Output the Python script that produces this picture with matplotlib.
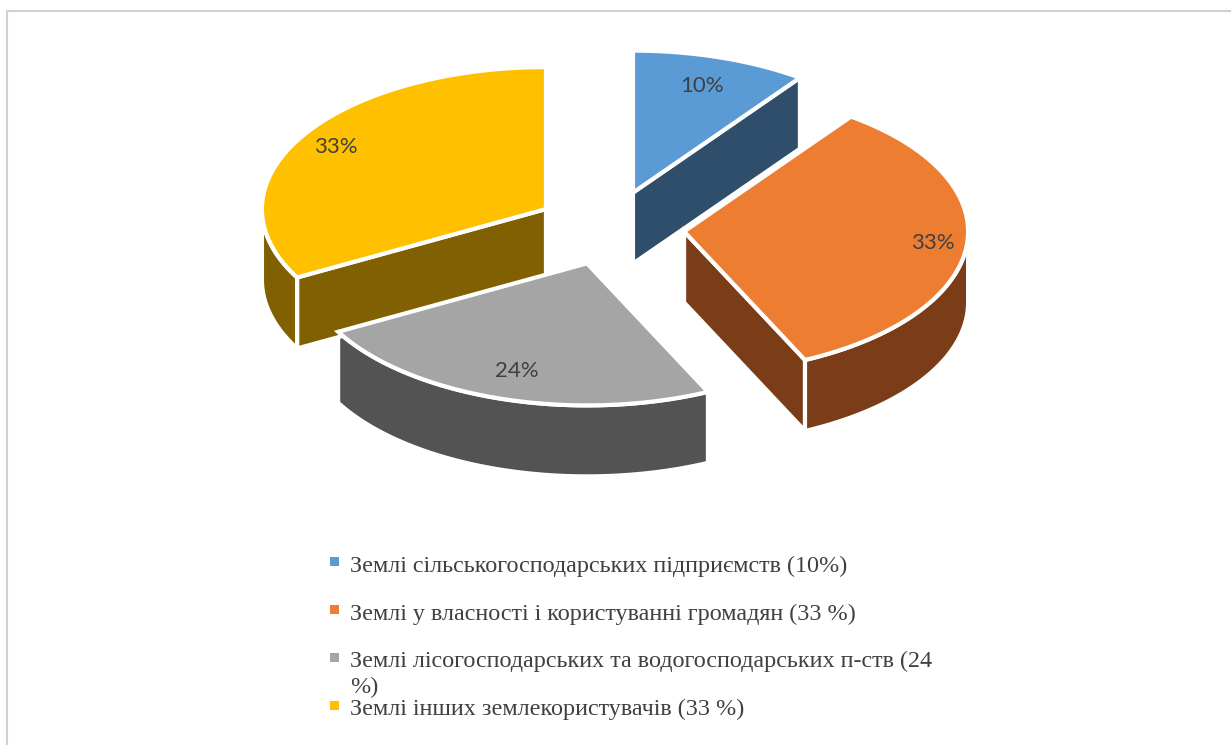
import numpy as np
import matplotlib
matplotlib.use("Agg")
import matplotlib.pyplot as plt
from matplotlib.patches import Polygon, Rectangle

# data
shares = [10, 33, 24, 33]
pct_labels = ["10%", "33%", "24%", "33%"]
legend_labels = [
    "Землі сільськогосподарських підприємств (10%)",
    "Землі у власності і користуванні громадян (33 %)",
    "Землі лісогосподарських та водогосподарських п-ств (24\n%)",
    "Землі інших землекористувачів (33 %)",
]
top_colors = ["#5B9BD5", "#ED7D31", "#A5A5A5", "#FFC000"]
side_colors = ["#2E4E6B", "#7A3D18", "#535353", "#806000"]

# pie geometry in pixels of the picture
cx, cy = 610, 228
rx, ry = 284, 142
depth = 71
explode = 0.262
label_radius = [0.79, 0.88, 0.80, 0.86]

fig = plt.figure(figsize=(12.31, 7.45), dpi=100)
ax = fig.add_axes([0, 0, 1, 1])
ax.set_xlim(0, 1231)
ax.set_ylim(745, 0)
ax.axis("off")

# chart frame, only left and top show in the crop
ax.plot([7, 7, 1231], [745, 10.5, 10.5], color="#D0D0D0", lw=1.5, zorder=1)


def rim(t, x0, y0):
    return x0 + rx * np.sin(t), y0 - ry * np.cos(t)


edges = np.cumsum([0] + shares) / sum(shares) * 2 * np.pi

for i in range(len(shares)):
    a, b = edges[i], edges[i + 1]
    mid = (a + b) / 2
    x0 = cx + explode * rx * np.sin(mid)
    y0 = cy - explode * ry * np.cos(mid)

    faces = []
    # cut faces that look towards the viewer
    if np.sin(a) < 0:
        xa, ya = rim(a, x0, y0)
        faces.append([(x0, y0), (xa, ya), (xa, ya + depth), (x0, y0 + depth)])
    if np.sin(b) > 0.01:
        xb, yb = rim(b, x0, y0)
        faces.append([(x0, y0), (xb, yb), (xb, yb + depth), (x0, y0 + depth)])
    # outer wall, lower half of the ellipse only
    lo, hi = max(a, np.pi / 2), min(b, 3 * np.pi / 2)
    if hi > lo:
        t = np.linspace(lo, hi, 80)
        wx, wy = rim(t, x0, y0)
        faces.append(list(zip(wx, wy)) + list(zip(wx[::-1], wy[::-1] + depth)))

    for f in faces:
        ax.add_patch(Polygon(f, closed=True, fc=side_colors[i], ec="white", lw=3.0, joinstyle="miter", zorder=2))

    t = np.linspace(a, b, 120)
    tx, ty = rim(t, x0, y0)
    top = [(x0, y0)] + list(zip(tx, ty))
    ax.add_patch(Polygon(top, closed=True, fc=top_colors[i], ec="white", lw=3.0, joinstyle="miter", zorder=3))

    lx = x0 + label_radius[i] * rx * np.sin(mid)
    ly = y0 - label_radius[i] * ry * np.cos(mid)
    ax.text(lx, ly, pct_labels[i], ha="center", va="center", fontsize=16,
            family="Lato", color="#404040", zorder=4)

# legend
legend_base = [572, 620, 667, 715]
marker_y = [561, 609, 657, 705.5]
for i, lab in enumerate(legend_labels):
    ax.add_patch(Rectangle((330, marker_y[i] - 4.5), 8.5, 9, fc=top_colors[i], ec="none", zorder=3))
    for j, line in enumerate(lab.split("\n")):
        ax.text(350, legend_base[i] + 26 * j, line, ha="left", va="baseline", fontsize=17.4,
                family="Liberation Serif", color="#404040", zorder=4)

fig.savefig("out.png", dpi=100)
